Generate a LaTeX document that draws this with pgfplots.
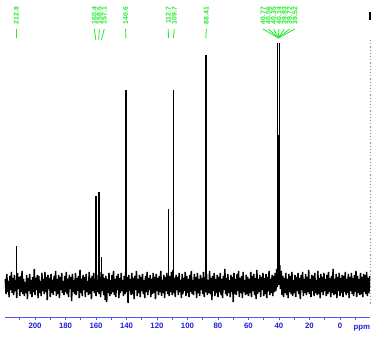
\documentclass[border=0pt]{standalone}
\usepackage{fontspec}
\setmainfont{Liberation Sans}
\usepackage{pgfplots}
\pgfplotsset{compat=1.18}
\definecolor{axblue}{RGB}{80,80,245}
\definecolor{lblue}{RGB}{30,30,225}
\definecolor{pkgreen}{RGB}{30,235,40}
\definecolor{dotc}{RGB}{170,140,120}
\tikzset{lab/.style={rotate=90, anchor=east, inner sep=0pt, text=pkgreen, font=\fontsize{6.8}{7}\selectfont\bfseries}}
\begin{document}
\begin{tikzpicture}
\path[use as bounding box] (-5pt,-24pt) rectangle (379pt,317pt);
\begin{axis}[
  at={(0pt,0pt)}, anchor=south west,
  scale only axis, width=365pt, height=317pt,
  xmin=-19.7, xmax=219.7, ymin=-32, ymax=285,
  x dir=reverse, clip=false,
  axis x line=bottom, axis y line=none,
  x axis line style={-, axblue, line width=0.9pt},
  xtick={0,20,...,200}, minor xtick={-10,10,...,210},
  tick align=outside, major tick length=3pt, minor tick length=3pt,
  tick style={axblue, line width=0.7pt},
  xticklabel style={font=\fontsize{7.8}{8}\selectfont\bfseries, text=lblue},
  /pgf/number format/assume math mode=true,
]
% noise
\addplot[black, line width=1.5pt] coordinates {
(219.5,6)(219,-9)(218.5,11)(218,-7)(217.5,4)(217,-12)(216.5,9)(216,-5)(215.5,13)(215,-8)(214.5,7)(214,-10)(213.5,10)(213,-6)(212.5,5)(212,-13)(211.5,12)(211,-4)(210.5,8)(210,-11)
(209.5,9)(209,-7)(208.5,14)(208,-9)(207.5,6)(207,-11)(206.5,3)(206,-8)(205.5,10)(205,-14)(204.5,7)(204,-6)(203.5,11)(203,-9)(202.5,5)(202,-12)(201.5,8)(201,-7)(200.5,16)(200,-10)
(199.5,7)(199,-5)(198.5,10)(198,-13)(197.5,9)(197,-8)(196.5,4)(196,-11)(195.5,12)(195,-6)(194.5,6)(194,-9)(193.5,13)(193,-7)(192.5,8)(192,-15)(191.5,10)(191,-4)(190.5,7)(190,-12)
(189.5,11)(189,-8)(188.5,5)(188,-10)(187.5,9)(187,-6)(186.5,14)(186,-11)(185.5,6)(185,-9)(184.5,10)(184,-13)(183.5,8)(183,-5)(182.5,12)(182,-8)(181.5,4)(181,-10)(180.5,9)(180,-7)
(179.5,13)(179,-9)(178.5,6)(178,-12)(177.5,10)(177,-4)(176.5,8)(176,-16)(175.5,11)(175,-7)(174.5,5)(174,-9)(173.5,12)(173,-10)(172.5,7)(172,-6)(171.5,9)(171,-13)(170.5,15)(170,-8)
(169.5,6)(169,-11)(168.5,10)(168,-5)(167.5,8)(167,-12)(166.5,11)(166,-7)(165.5,4)(165,-10)(164.5,13)(164,-9)(163.5,7)(163,-14)(162.5,9)(162,-6)(161.5,12)(161,-8)(160.5,6)(160,-11)
(159.5,10)(159,-7)(158.5,5)(158,-9)(157.5,13)(157,-12)(156.5,8)(156,-6)(155.5,11)(155,-10)(154.5,7)(154,-15)(153.5,9)(153,-17)(152.5,6)(152,-8)(151.5,12)(151,-11)(150.5,5)(150,-9)
(149.5,10)(149,-7)(148.5,14)(148,-10)(147.5,6)(147,-12)(146.5,9)(146,-5)(145.5,11)(145,-13)(144.5,7)(144,-8)(143.5,12)(143,-6)(142.5,5)(142,-11)(141.5,9)(141,-9)(140.5,13)(140,-7)
(139.5,8)(139,-18)(138.5,10)(138,-6)(137.5,6)(137,-10)(136.5,12)(136,-9)(135.5,7)(135,-14)(134.5,9)(134,-5)(133.5,14)(133,-11)(132.5,6)(132,-8)(131.5,10)(131,-12)(130.5,8)(130,-6)
(129.5,11)(129,-9)(128.5,5)(128,-13)(127.5,9)(127,-7)(126.5,13)(126,-10)(125.5,7)(125,-5)(124.5,10)(124,-12)(123.5,6)(123,-9)(122.5,12)(122,-8)(121.5,8)(121,-14)(120.5,11)(120,-6)
(119.5,7)(119,-10)(118.5,9)(118,-7)(117.5,14)(117,-11)(116.5,5)(116,-8)(115.5,10)(115,-13)(114.5,8)(114,-6)(113.5,12)(113,-9)(112.5,6)(112,-11)(111.5,9)(111,-7)(110.5,13)(110,-10)
(109.5,15)(109,-8)(108.5,7)(108,-12)(107.5,10)(107,-5)(106.5,8)(106,-10)(105.5,12)(105,-7)(104.5,5)(104,-13)(103.5,11)(103,-9)(102.5,7)(102,-6)(101.5,13)(101,-11)(100.5,9)(100,-8)
(99.5,6)(99,-12)(98.5,10)(98,-7)(97.5,14)(97,-9)(96.5,5)(96,-10)(95.5,11)(95,-6)(94.5,8)(94,-13)(93.5,12)(93,-8)(92.5,6)(92,-11)(91.5,10)(91,-5)(90.5,7)(90,-9)
(89.5,13)(89,-12)(88.5,8)(88,-7)(87.5,11)(87,-10)(86.5,5)(86,-8)(85.5,14)(85,-9)(84.5,7)(84,-15)(83.5,9)(83,-6)(82.5,12)(82,-11)(81.5,6)(81,-8)(80.5,10)(80,-12)
(79.5,8)(79,-7)(78.5,12)(78,-10)(77.5,6)(77,-13)(76.5,9)(76,-5)(75.5,16)(75,-9)(74.5,7)(74,-11)(73.5,11)(73,-8)(72.5,5)(72,-12)(71.5,10)(71,-7)(70.5,8)(70,-17)
(69.5,12)(69,-9)(68.5,6)(68,-10)(67.5,11)(67,-6)(66.5,14)(66,-12)(65.5,7)(65,-8)(64.5,9)(64,-13)(63.5,13)(63,-7)(62.5,5)(62,-10)(61.5,10)(61,-9)(60.5,8)(60,-11)
(59.5,6)(59,-8)(58.5,13)(58,-12)(57.5,9)(57,-6)(56.5,11)(56,-10)(55.5,7)(55,-14)(54.5,15)(54,-9)(53.5,6)(53,-7)(52.5,10)(52,-12)(51.5,8)(51,-5)(50.5,12)(50,-11)
(49.5,7)(49,-9)(48.5,11)(48,-13)(47.5,8)(47,-6)(46.5,14)(46,-10)(45.5,6)(45,-8)(44.5,10)(44,-11)(43.5,9)(43,-7)(42.5,12)(42,-6)(41.5,16)(41,-2)(40.5,22)(40,8)(39.5,20)(39,-4)
(38.5,14)(38,-10)(37.5,9)(37,-12)(36.5,7)(36,-8)(35.5,12)(35,-10)(34.5,6)(34,-13)(33.5,11)(33,-7)(32.5,9)(32,-9)(31.5,13)(31,-11)(30.5,5)(30,-8)(29.5,10)(29,-12)(28.5,8)(28,-6)
(27.5,12)(27,-9)(26.5,7)(26,-14)(25.5,10)(25,-5)(24.5,13)(24,-11)(23.5,6)(23,-8)(22.5,11)(22,-10)(21.5,8)(21,-7)(20.5,15)(20,-9)(19.5,6)(19,-12)(18.5,10)(18,-6)
(17.5,9)(17,-11)(16.5,12)(16,-8)(15.5,5)(15,-10)(14.5,14)(14,-9)(13.5,7)(13,-13)(12.5,11)(12,-7)(11.5,8)(11,-10)(10.5,12)(10,-6)(9.5,6)(9,-11)(8.5,10)(8,-9)
(7.5,13)(7,-7)(6.5,7)(6,-12)(5.5,9)(5,-8)(4.5,16)(4,-10)(3.5,6)(3,-9)(2.5,11)(2,-13)(1.5,8)(1,-6)(0.5,12)(0,-11)(-0.5,7)(-1,-8)(-1.5,10)(-2,-12)
(-2.5,9)(-3,-7)(-3.5,13)(-4,-10)(-4.5,6)(-5,-8)(-5.5,11)(-6,-13)(-6.5,8)(-7,-6)(-7.5,12)(-8,-9)(-8.5,7)(-9,-11)(-9.5,10)(-10,-7)(-10.5,14)(-11,-12)(-11.5,9)(-12,-8)
(-12.5,6)(-13,-10)(-13.5,12)(-14,-9)(-14.5,8)(-15,-12)(-15.5,11)(-16,-7)(-16.5,10)(-17,-9)(-17.5,13)(-18,-11)(-18.5,7)(-19,-8)(-19.5,9)
};
% peaks
\addplot[ycomb, black, line width=1.5pt, mark=none] coordinates {
(212.3,39)(160.1,89)(158.2,93)(156.4,28)(140.4,195)(112.5,76)(109.2,195)(88.0,230)};
% solvent multiplet
\addplot[ycomb, black, line width=1.1pt, mark=none] coordinates {
(41.2,242)(40.4,150)(39.6,242)};
% peak labels
\node[lab] at (axis cs:212.3,278) {212.8};
\draw[pkgreen, line width=0.8pt] (axis cs:212.3,256) -- (axis cs:212.3,247);
\node[lab] at (axis cs:161.1,278) {160.4};
\draw[pkgreen, line width=0.8pt] (axis cs:161.1,256) -- (axis cs:160.1,245);
\node[lab] at (axis cs:157.9,278) {158.5};
\draw[pkgreen, line width=0.8pt] (axis cs:157.9,256) -- (axis cs:158.2,245);
\node[lab] at (axis cs:154.6,278) {157.1};
\draw[pkgreen, line width=0.8pt] (axis cs:154.6,256) -- (axis cs:156.4,245);
\node[lab] at (axis cs:140.6,278) {140.6};
\draw[pkgreen, line width=0.8pt] (axis cs:140.6,256) -- (axis cs:140.4,247);
\node[lab] at (axis cs:112.6,278) {112.7};
\draw[pkgreen, line width=0.8pt] (axis cs:112.6,256) -- (axis cs:112.5,247);
\node[lab] at (axis cs:108.7,278) {109.7};
\draw[pkgreen, line width=0.8pt] (axis cs:108.7,256) -- (axis cs:109.2,247);
\node[lab] at (axis cs:87.6,278) {88.41};
\draw[pkgreen, line width=0.8pt] (axis cs:87.6,256) -- (axis cs:88.0,247);
\node[lab] at (axis cs:50.5,278) {40.77};
\node[lab] at (axis cs:47.0,278) {40.56};
\node[lab] at (axis cs:43.5,278) {40.35};
\node[lab] at (axis cs:40.0,278) {40.14};
\node[lab] at (axis cs:36.5,278) {39.93};
\node[lab] at (axis cs:33.0,278) {39.72};
\node[lab] at (axis cs:29.5,278) {39.52};
\draw[pkgreen, line width=0.8pt] (axis cs:50.5,256) -- (axis cs:40.4,247);
\draw[pkgreen, line width=0.8pt] (axis cs:47.0,256) -- (axis cs:40.4,247);
\draw[pkgreen, line width=0.8pt] (axis cs:43.5,256) -- (axis cs:40.4,247);
\draw[pkgreen, line width=0.8pt] (axis cs:40.0,256) -- (axis cs:40.4,247);
\draw[pkgreen, line width=0.8pt] (axis cs:36.5,256) -- (axis cs:40.4,247);
\draw[pkgreen, line width=0.8pt] (axis cs:33.0,256) -- (axis cs:40.4,247);
\draw[pkgreen, line width=0.8pt] (axis cs:29.5,256) -- (axis cs:40.4,247);
% right-hand marks
\draw[dotc, dotted, line width=1.2pt] (axis cs:-19.8,245) -- (axis cs:-19.8,-20);
\draw[black, line width=2.2pt] (axis cs:-19.8,273) -- (axis cs:-19.8,265);
\node[text=lblue, font=\fontsize{7.8}{8}\selectfont\bfseries] at (axis cs:-14.4,-43) {ppm};
\end{axis}
\end{tikzpicture}
\end{document}
